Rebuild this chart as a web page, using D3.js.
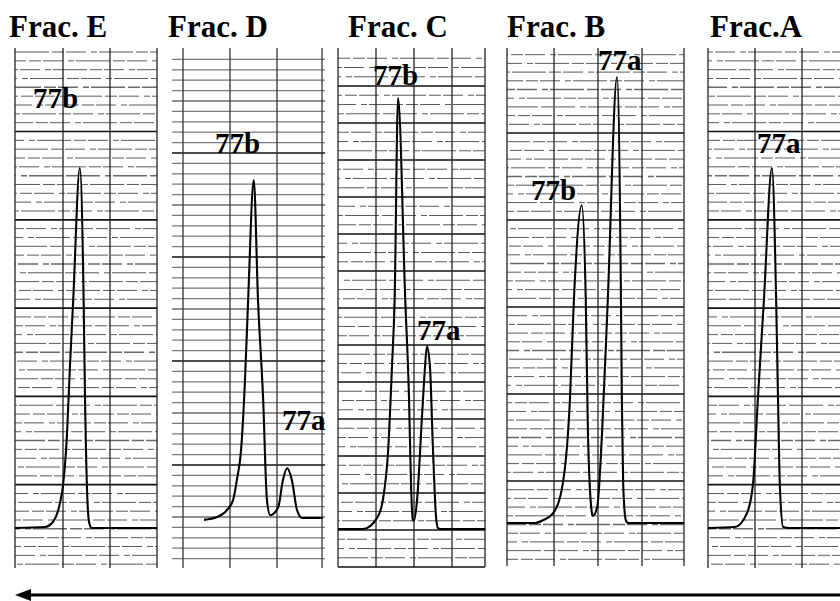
<!DOCTYPE html>
<html><head><meta charset="utf-8">
<script src="https://cdn.jsdelivr.net/npm/d3@7"></script>
<style>body{margin:0;background:#fff}svg{display:block}</style>
</head><body>
<svg id="c" width="840" height="601"></svg>
<script>
// ---------- DATA (time in chart-paper units: 10 = one grid column; signal in % of full scale) ----------
const fractions = ["Frac. E", "Frac. D", "Frac. C", "Frac. B", "Frac.A"];

const traceE = [[0,0],[6.3,0.2],[8.0,1.25],[9.5,5.2],[10.1,8.5],[11.0,19.8],[11.6,33.5],[12.3,47.5],[13.7,75],
  [14.5,47.5],[14.8,26.7],[15.3,5.8],[15.7,1.0],[16.2,0],[30,0]];
const traceD = [[6.8,-0.4],[9.6,0.2],[11.7,1.7],[13.0,3.8],[13.8,8.1],[14.7,14.5],[15.5,28.7],[16.2,46.4],[17.4,71.9],
  [18.3,46.4],[19.4,25.1],[20.2,3.8],[20.9,0.6],[22.6,2.3],[23.6,8.1],[24.5,10.6],[25.5,8.1],[26.6,1.7],[27.7,0],[32.1,0]];
const traceC = [[0,0],[6.6,0],[10.3,2.3],[11.8,6.0],[13.2,16.4],[14.2,33.7],[14.9,47.6],[15.8,89.6],
  [17.7,47.6],[18.7,26.8],[19.2,9.6],[19.7,1.9],[20.0,1.7],[20.8,6.0],[22.1,23.3],[22.9,33.7],[23.4,38.0],
  [24.2,33.7],[25.0,16.4],[25.8,2.5],[26.3,0.2],[27.0,0],[38.7,0]];
const traceB = [[0,0],[6.4,0],[8.2,0.6],[10.5,2.1],[12.7,8.4],[14.3,25.9],[15.2,46.9],[17.0,66.9],
  [17.9,46.9],[18.4,18.9],[19.3,2.1],[19.5,1.5],[20.5,3.4],[21.6,18.9],[22.9,46.9],[25.0,93.9],
  [25.9,46.9],[26.1,25.9],[26.4,8.4],[27.0,0.6],[27.5,0],[40.2,0]];
const traceA = [[0,0],[5.7,0.2],[8.3,3.1],[9.6,9.4],[10.6,26.7],[11.9,47.5],[13.6,75],
  [14.5,47.5],[14.9,26.7],[15.3,8.5],[16.0,0.2],[17.4,0],[28.1,0]];

const labelsE = ["77b"];
const labelsD = ["77b", "77a"];
const labelsC = ["77b", "77a"];
const labelsB = ["77a", "77b"];
const labelsA = ["77a"];

// ---------- LAYOUT ----------
const panels = [
  {title:0, trace:traceE, labels:labelsE, x0:15,  col:47.33, right:157, base:528, top:48, bottom:568,
   vl:[15,63,110,157], maj0:131.5, majStep:88.3, minPer:10, titleX:9,
   lab:[[33,108]], paper:"dash"},
  {title:1, trace:traceD, labels:labelsD, x0:172, col:47,    right:325, base:518, top:48, bottom:568,
   vl:[183,230,277,322], maj0:153, majStep:104, minPer:10, titleX:168,
   lab:[[215,153],[282,430]], paper:"solid"},
  {title:2, trace:traceC, labels:labelsC, x0:338, col:38,    right:485, base:529, top:48, bottom:567,
   vl:[338,376,414,452,485], maj0:86, majStep:37, minPer:4, titleX:348,
   lab:[[373,85],[417,340]], paper:"dash"},
  {title:3, trace:traceB, labels:labelsB, x0:507, col:44,    right:684, base:523, top:48, bottom:566,
   vl:[507,554,598,642,684], maj0:46, majStep:87, minPer:10, titleX:507,
   lab:[[598,70],[531,200]], paper:"dash"},
  {title:4, trace:traceA, labels:labelsA, x0:708, col:47,    right:840, base:528, top:48, bottom:568,
   vl:[708,755,802], maj0:131.5, majStep:88.3, minPer:10, titleX:710,
   lab:[[757,153]], paper:"dash"}
];

const svg = d3.select("#c");
const font = "'Liberation Serif','Times New Roman',serif";

panels.forEach((p, pi) => {
  const x = d3.scaleLinear().domain([0,10]).range([p.x0, p.x0 + p.col]);
  const y = d3.scaleLinear().domain([0,100]).range([p.base, p.top]);
  const g = svg.append("g");

  // horizontal chart-paper lines
  const minStep = p.majStep / p.minPer;
  let start = p.maj0;
  while (start - minStep >= p.top + 2) start -= minStep;
  while (start < p.top + 2) start += minStep;
  const rows = [];
  for (let yy = start, k = 0; yy <= p.bottom + 0.5; yy += minStep, k++) {
    const idx = Math.round((yy - p.maj0) / minStep);
    const isMaj = ((idx % p.minPer) + p.minPer) % p.minPer === 0;
    const isMid = p.minPer === 10 && ((idx % 10) + 10) % 10 === 5;
    rows.push({y: yy, maj: isMaj, mid: isMid, k: k});
  }
  g.selectAll("line.h").data(rows).join("line")
    .attr("x1", p.x0).attr("x2", p.right)
    .attr("y1", d => d.y).attr("y2", d => d.y)
    .attr("stroke", d => d.maj ? "#111" : (d.mid ? "#6a6a6a" : (p.paper === "solid" ? "#7a7a7a" : "#4a4a4a")))
    .attr("stroke-width", d => d.maj ? 1.7 : (d.mid ? 1.5 : (p.paper === "solid" ? 1.3 : 0.9)))
    .attr("stroke-dasharray", d => (d.maj || p.paper === "solid") ? null : "34 3 12 2 20 5 6 2")
    .attr("stroke-dashoffset", d => ((d.k * 23 + pi * 11) % 84));

  // vertical lines
  g.selectAll("line.v").data(p.vl).join("line")
    .attr("x1", d => d).attr("x2", d => d)
    .attr("y1", p.top).attr("y2", p.bottom)
    .attr("stroke", p.paper === "solid" ? "#333" : "#222")
    .attr("stroke-width", 1.3);

  // trace
  g.append("path").datum(p.trace)
    .attr("d", d3.line().x(d => x(d[0])).y(d => y(d[1])).curve(d3.curveMonotoneX))
    .attr("fill", "none").attr("stroke", "#000").attr("stroke-width", 2.1)
    .attr("stroke-linejoin", "round");

  // title
  svg.append("text").attr("x", p.titleX).attr("y", 37)
    .attr("font-family", font).attr("font-weight", "bold").attr("font-size", 31)
    .text(fractions[p.title]);

  // peak labels
  p.labels.forEach((t, i) => {
    svg.append("text").attr("x", p.lab[i][0]).attr("y", p.lab[i][1])
      .attr("font-family", font).attr("font-weight", "bold").attr("font-size", 29)
      .text(t);
  });
});

// elution direction arrow
svg.append("line").attr("x1", 28).attr("x2", 840).attr("y1", 595).attr("y2", 595)
  .attr("stroke", "#000").attr("stroke-width", 2.8);
svg.append("path").attr("d", d3.line()([[15,595],[31,589],[31,601]]) + "Z").attr("fill", "#000");
</script>
</body></html>
